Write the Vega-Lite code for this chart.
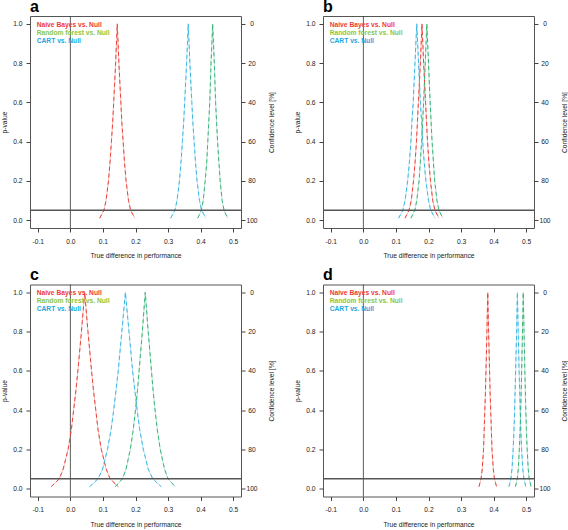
{
  "$schema": "https://vega.github.io/schema/vega-lite/v6.json",
  "padding": {"left": 1, "top": -2, "right": 0, "bottom": 0},
  "background": "white",
  "datasets": {
    "curves": [
      {"panel":"a","model":"NB","x":0.090,"p":0.01},{"panel":"a","model":"NB","x":0.103,"p":0.05},{"panel":"a","model":"NB","x":0.1095,"p":0.1},{"panel":"a","model":"NB","x":0.117,"p":0.2},{"panel":"a","model":"NB","x":0.122,"p":0.3},{"panel":"a","model":"NB","x":0.126,"p":0.4},{"panel":"a","model":"NB","x":0.130,"p":0.5},{"panel":"a","model":"NB","x":0.133,"p":0.6},{"panel":"a","model":"NB","x":0.139,"p":0.8},{"panel":"a","model":"NB","x":0.144,"p":1.0},
      {"panel":"a","model":"NB","x":0.149,"p":0.8},{"panel":"a","model":"NB","x":0.155,"p":0.6},{"panel":"a","model":"NB","x":0.158,"p":0.5},{"panel":"a","model":"NB","x":0.162,"p":0.4},{"panel":"a","model":"NB","x":0.166,"p":0.3},{"panel":"a","model":"NB","x":0.171,"p":0.2},{"panel":"a","model":"NB","x":0.1785,"p":0.1},{"panel":"a","model":"NB","x":0.185,"p":0.05},{"panel":"a","model":"NB","x":0.198,"p":0.01},
      {"panel":"a","model":"CART","x":0.308,"p":0.01},{"panel":"a","model":"CART","x":0.321,"p":0.05},{"panel":"a","model":"CART","x":0.3275,"p":0.1},{"panel":"a","model":"CART","x":0.335,"p":0.2},{"panel":"a","model":"CART","x":0.340,"p":0.3},{"panel":"a","model":"CART","x":0.344,"p":0.4},{"panel":"a","model":"CART","x":0.348,"p":0.5},{"panel":"a","model":"CART","x":0.351,"p":0.6},{"panel":"a","model":"CART","x":0.357,"p":0.8},{"panel":"a","model":"CART","x":0.362,"p":1.0},
      {"panel":"a","model":"CART","x":0.367,"p":0.8},{"panel":"a","model":"CART","x":0.373,"p":0.6},{"panel":"a","model":"CART","x":0.376,"p":0.5},{"panel":"a","model":"CART","x":0.380,"p":0.4},{"panel":"a","model":"CART","x":0.384,"p":0.3},{"panel":"a","model":"CART","x":0.389,"p":0.2},{"panel":"a","model":"CART","x":0.3965,"p":0.1},{"panel":"a","model":"CART","x":0.403,"p":0.05},{"panel":"a","model":"CART","x":0.416,"p":0.01},
      {"panel":"a","model":"RF","x":0.391,"p":0.01},{"panel":"a","model":"RF","x":0.402,"p":0.05},{"panel":"a","model":"RF","x":0.408,"p":0.1},{"panel":"a","model":"RF","x":0.414,"p":0.2},{"panel":"a","model":"RF","x":0.419,"p":0.3},{"panel":"a","model":"RF","x":0.422,"p":0.4},{"panel":"a","model":"RF","x":0.425,"p":0.5},{"panel":"a","model":"RF","x":0.428,"p":0.6},{"panel":"a","model":"RF","x":0.432,"p":0.8},{"panel":"a","model":"RF","x":0.437,"p":1.0},
      {"panel":"a","model":"RF","x":0.442,"p":0.8},{"panel":"a","model":"RF","x":0.446,"p":0.6},{"panel":"a","model":"RF","x":0.449,"p":0.5},{"panel":"a","model":"RF","x":0.452,"p":0.4},{"panel":"a","model":"RF","x":0.456,"p":0.3},{"panel":"a","model":"RF","x":0.460,"p":0.2},{"panel":"a","model":"RF","x":0.466,"p":0.1},{"panel":"a","model":"RF","x":0.472,"p":0.05},{"panel":"a","model":"RF","x":0.483,"p":0.01},

      {"panel":"b","model":"NB","x":0.128,"p":0.01},{"panel":"b","model":"NB","x":0.140,"p":0.05},{"panel":"b","model":"NB","x":0.147,"p":0.1},{"panel":"b","model":"NB","x":0.154,"p":0.2},{"panel":"b","model":"NB","x":0.159,"p":0.3},{"panel":"b","model":"NB","x":0.163,"p":0.4},{"panel":"b","model":"NB","x":0.166,"p":0.5},{"panel":"b","model":"NB","x":0.169,"p":0.6},{"panel":"b","model":"NB","x":0.175,"p":0.8},{"panel":"b","model":"NB","x":0.180,"p":1.0},
      {"panel":"b","model":"NB","x":0.185,"p":0.8},{"panel":"b","model":"NB","x":0.191,"p":0.6},{"panel":"b","model":"NB","x":0.194,"p":0.5},{"panel":"b","model":"NB","x":0.197,"p":0.4},{"panel":"b","model":"NB","x":0.201,"p":0.3},{"panel":"b","model":"NB","x":0.206,"p":0.2},{"panel":"b","model":"NB","x":0.213,"p":0.1},{"panel":"b","model":"NB","x":0.220,"p":0.05},{"panel":"b","model":"NB","x":0.232,"p":0.01},
      {"panel":"b","model":"CART","x":0.108,"p":0.01},{"panel":"b","model":"CART","x":0.121,"p":0.05},{"panel":"b","model":"CART","x":0.128,"p":0.1},{"panel":"b","model":"CART","x":0.136,"p":0.2},{"panel":"b","model":"CART","x":0.1415,"p":0.3},{"panel":"b","model":"CART","x":0.146,"p":0.4},{"panel":"b","model":"CART","x":0.149,"p":0.5},{"panel":"b","model":"CART","x":0.153,"p":0.6},{"panel":"b","model":"CART","x":0.1585,"p":0.8},{"panel":"b","model":"CART","x":0.164,"p":1.0},
      {"panel":"b","model":"CART","x":0.1695,"p":0.8},{"panel":"b","model":"CART","x":0.175,"p":0.6},{"panel":"b","model":"CART","x":0.179,"p":0.5},{"panel":"b","model":"CART","x":0.182,"p":0.4},{"panel":"b","model":"CART","x":0.1865,"p":0.3},{"panel":"b","model":"CART","x":0.192,"p":0.2},{"panel":"b","model":"CART","x":0.200,"p":0.1},{"panel":"b","model":"CART","x":0.207,"p":0.05},{"panel":"b","model":"CART","x":0.220,"p":0.01},
      {"panel":"b","model":"RF","x":0.146,"p":0.01},{"panel":"b","model":"RF","x":0.158,"p":0.05},{"panel":"b","model":"RF","x":0.164,"p":0.1},{"panel":"b","model":"RF","x":0.171,"p":0.2},{"panel":"b","model":"RF","x":0.175,"p":0.3},{"panel":"b","model":"RF","x":0.179,"p":0.4},{"panel":"b","model":"RF","x":0.182,"p":0.5},{"panel":"b","model":"RF","x":0.185,"p":0.6},{"panel":"b","model":"RF","x":0.190,"p":0.8},{"panel":"b","model":"RF","x":0.195,"p":1.0},
      {"panel":"b","model":"RF","x":0.200,"p":0.8},{"panel":"b","model":"RF","x":0.205,"p":0.6},{"panel":"b","model":"RF","x":0.208,"p":0.5},{"panel":"b","model":"RF","x":0.211,"p":0.4},{"panel":"b","model":"RF","x":0.215,"p":0.3},{"panel":"b","model":"RF","x":0.219,"p":0.2},{"panel":"b","model":"RF","x":0.226,"p":0.1},{"panel":"b","model":"RF","x":0.232,"p":0.05},{"panel":"b","model":"RF","x":0.244,"p":0.01},

      {"panel":"c","model":"NB","x":-0.059,"p":0.01},{"panel":"c","model":"NB","x":-0.034,"p":0.05},{"panel":"c","model":"NB","x":-0.022,"p":0.1},{"panel":"c","model":"NB","x":-0.007,"p":0.2},{"panel":"c","model":"NB","x":0.003,"p":0.3},{"panel":"c","model":"NB","x":0.010,"p":0.4},{"panel":"c","model":"NB","x":0.017,"p":0.5},{"panel":"c","model":"NB","x":0.023,"p":0.6},{"panel":"c","model":"NB","x":0.034,"p":0.8},{"panel":"c","model":"NB","x":0.044,"p":1.0},
      {"panel":"c","model":"NB","x":0.054,"p":0.8},{"panel":"c","model":"NB","x":0.065,"p":0.6},{"panel":"c","model":"NB","x":0.071,"p":0.5},{"panel":"c","model":"NB","x":0.078,"p":0.4},{"panel":"c","model":"NB","x":0.085,"p":0.3},{"panel":"c","model":"NB","x":0.095,"p":0.2},{"panel":"c","model":"NB","x":0.110,"p":0.1},{"panel":"c","model":"NB","x":0.122,"p":0.05},{"panel":"c","model":"NB","x":0.147,"p":0.01},
      {"panel":"c","model":"CART","x":0.059,"p":0.01},{"panel":"c","model":"CART","x":0.085,"p":0.05},{"panel":"c","model":"CART","x":0.099,"p":0.1},{"panel":"c","model":"CART","x":0.114,"p":0.2},{"panel":"c","model":"CART","x":0.125,"p":0.3},{"panel":"c","model":"CART","x":0.133,"p":0.4},{"panel":"c","model":"CART","x":0.140,"p":0.5},{"panel":"c","model":"CART","x":0.147,"p":0.6},{"panel":"c","model":"CART","x":0.158,"p":0.8},{"panel":"c","model":"CART","x":0.169,"p":1.0},
      {"panel":"c","model":"CART","x":0.180,"p":0.8},{"panel":"c","model":"CART","x":0.191,"p":0.6},{"panel":"c","model":"CART","x":0.198,"p":0.5},{"panel":"c","model":"CART","x":0.205,"p":0.4},{"panel":"c","model":"CART","x":0.213,"p":0.3},{"panel":"c","model":"CART","x":0.224,"p":0.2},{"panel":"c","model":"CART","x":0.239,"p":0.1},{"panel":"c","model":"CART","x":0.253,"p":0.05},{"panel":"c","model":"CART","x":0.279,"p":0.01},
      {"panel":"c","model":"RF","x":0.138,"p":0.01},{"panel":"c","model":"RF","x":0.160,"p":0.05},{"panel":"c","model":"RF","x":0.171,"p":0.1},{"panel":"c","model":"RF","x":0.184,"p":0.2},{"panel":"c","model":"RF","x":0.193,"p":0.3},{"panel":"c","model":"RF","x":0.200,"p":0.4},{"panel":"c","model":"RF","x":0.206,"p":0.5},{"panel":"c","model":"RF","x":0.211,"p":0.6},{"panel":"c","model":"RF","x":0.221,"p":0.8},{"panel":"c","model":"RF","x":0.230,"p":1.0},
      {"panel":"c","model":"RF","x":0.239,"p":0.8},{"panel":"c","model":"RF","x":0.249,"p":0.6},{"panel":"c","model":"RF","x":0.254,"p":0.5},{"panel":"c","model":"RF","x":0.260,"p":0.4},{"panel":"c","model":"RF","x":0.267,"p":0.3},{"panel":"c","model":"RF","x":0.276,"p":0.2},{"panel":"c","model":"RF","x":0.289,"p":0.1},{"panel":"c","model":"RF","x":0.300,"p":0.05},{"panel":"c","model":"RF","x":0.322,"p":0.01},

      {"panel":"d","model":"NB","x":0.355,"p":0.01},{"panel":"d","model":"NB","x":0.3615,"p":0.05},{"panel":"d","model":"NB","x":0.365,"p":0.1},{"panel":"d","model":"NB","x":0.369,"p":0.2},{"panel":"d","model":"NB","x":0.371,"p":0.3},{"panel":"d","model":"NB","x":0.373,"p":0.4},{"panel":"d","model":"NB","x":0.375,"p":0.5},{"panel":"d","model":"NB","x":0.3765,"p":0.6},{"panel":"d","model":"NB","x":0.3794,"p":0.8},{"panel":"d","model":"NB","x":0.382,"p":1.0},
      {"panel":"d","model":"NB","x":0.3846,"p":0.8},{"panel":"d","model":"NB","x":0.3875,"p":0.6},{"panel":"d","model":"NB","x":0.389,"p":0.5},{"panel":"d","model":"NB","x":0.391,"p":0.4},{"panel":"d","model":"NB","x":0.393,"p":0.3},{"panel":"d","model":"NB","x":0.395,"p":0.2},{"panel":"d","model":"NB","x":0.399,"p":0.1},{"panel":"d","model":"NB","x":0.4025,"p":0.05},{"panel":"d","model":"NB","x":0.409,"p":0.01},
      {"panel":"d","model":"CART","x":0.447,"p":0.01},{"panel":"d","model":"CART","x":0.453,"p":0.05},{"panel":"d","model":"CART","x":0.4564,"p":0.1},{"panel":"d","model":"CART","x":0.460,"p":0.2},{"panel":"d","model":"CART","x":0.4625,"p":0.3},{"panel":"d","model":"CART","x":0.4645,"p":0.4},{"panel":"d","model":"CART","x":0.466,"p":0.5},{"panel":"d","model":"CART","x":0.4677,"p":0.6},{"panel":"d","model":"CART","x":0.4705,"p":0.8},{"panel":"d","model":"CART","x":0.473,"p":1.0},
      {"panel":"d","model":"CART","x":0.4755,"p":0.8},{"panel":"d","model":"CART","x":0.4783,"p":0.6},{"panel":"d","model":"CART","x":0.480,"p":0.5},{"panel":"d","model":"CART","x":0.4815,"p":0.4},{"panel":"d","model":"CART","x":0.4835,"p":0.3},{"panel":"d","model":"CART","x":0.486,"p":0.2},{"panel":"d","model":"CART","x":0.4896,"p":0.1},{"panel":"d","model":"CART","x":0.493,"p":0.05},{"panel":"d","model":"CART","x":0.499,"p":0.01},
      {"panel":"d","model":"RF","x":0.467,"p":0.01},{"panel":"d","model":"RF","x":0.4727,"p":0.05},{"panel":"d","model":"RF","x":0.4757,"p":0.1},{"panel":"d","model":"RF","x":0.479,"p":0.2},{"panel":"d","model":"RF","x":0.4814,"p":0.3},{"panel":"d","model":"RF","x":0.4832,"p":0.4},{"panel":"d","model":"RF","x":0.4847,"p":0.5},{"panel":"d","model":"RF","x":0.4861,"p":0.6},{"panel":"d","model":"RF","x":0.4886,"p":0.8},{"panel":"d","model":"RF","x":0.491,"p":1.0},
      {"panel":"d","model":"RF","x":0.4934,"p":0.8},{"panel":"d","model":"RF","x":0.4959,"p":0.6},{"panel":"d","model":"RF","x":0.4973,"p":0.5},{"panel":"d","model":"RF","x":0.4988,"p":0.4},{"panel":"d","model":"RF","x":0.5006,"p":0.3},{"panel":"d","model":"RF","x":0.503,"p":0.2},{"panel":"d","model":"RF","x":0.5063,"p":0.1},{"panel":"d","model":"RF","x":0.5093,"p":0.05},{"panel":"d","model":"RF","x":0.515,"p":0.01}
    ]
  },
  "config": {
    "view": {"stroke": "#555555", "strokeWidth": 1},
    "axis": {"domain": false, "grid": false, "ticks": true, "tickSize": 4, "tickColor": "#444444", "tickWidth": 1,
             "labelFont": "Liberation Sans", "labelFontSize": 6.7, "labelColor": "#222222", "labelOverlap": false, "labelFlush": false,
             "titleFont": "Liberation Sans", "titleFontSize": 6.7, "titleFontWeight": "normal", "titleColor": "#222222"},
    "axisLeft": {"labelPadding": 4, "titlePadding": 5},
    "axisBottom": {"labelPadding": 6, "titlePadding": 8},
    "title": {"font": "Liberation Sans", "fontSize": 16, "fontWeight": "bold", "anchor": "start", "frame": "group", "baseline": "alphabetic", "offset": 1, "color": "#000000"},
    "legend": {"orient": "none", "legendX": 0, "legendY": 5.6, "padding": 0, "rowPadding": -0.5, "labelFont": "Liberation Sans", "labelFontSize": 6.7, "labelFontWeight": "bold", "symbolSize": 1, "symbolStrokeWidth": 0, "symbolOpacity": 0, "labelOffset": 0}
  },
  "columns": 2,
  "spacing": {"row": 6.5, "column": 18},
  "resolve": {"scale": {"color": "independent"}, "legend": {"color": "independent"}},
  "concat": [
    {
      "title": {"text": "a"},
      "width": 211, "height": 212,
      "layer": [
        {
          "data": {"name": "curves"},
          "transform": [{"filter": "datum.panel == 'a'"}],
          "layer": [
            {"data": {"values": [{}]}, "mark": {"type": "rule", "color": "#333333", "strokeWidth": 0.8},
             "encoding": {"x": {"datum": 0, "type": "quantitative", "title": "True difference in performance", "scale": {"domain": [-0.124, 0.524], "nice": false, "zero": false}, "axis": {"values": [-0.1,0,0.1,0.2,0.3,0.4,0.5], "labelOverlap": false, "labelExpr": "replace(format(datum.value, '.1f'), '\u2212', '-')", "title": "True difference in performance"}}}},
            {"mark": {"type": "line", "strokeWidth": 1, "opacity": 0.35},
             "encoding": {
               "x": {"field": "x", "type": "quantitative", "scale": {"domain": [-0.124, 0.524], "nice": false, "zero": false}, "axis": {"values": [-0.1,0,0.1,0.2,0.3,0.4,0.5], "labelOverlap": false, "labelExpr": "replace(format(datum.value, '.1f'), '\u2212', '-')", "title": "True difference in performance"}},
               "y": {"field": "p", "type": "quantitative", "scale": {"domain": [-0.04, 1.04], "nice": false, "zero": false}, "axis": {"values": [0,0.2,0.4,0.6,0.8,1], "format": ".1f", "title": "p-value", "orient": "left"}},
               "color": {"field": "model", "type": "nominal", "scale": {"domain": ["NB","RF","CART"], "range": ["#E8453C","#3AB57A","#3DB7E4"]},
                 "legend": {"title": null, "labelExpr": "datum.label == 'NB' ? 'Naive Bayes vs. Null' : datum.label == 'RF' ? 'Random forest vs. Null' : 'CART vs. Null'",
                   "encode": {"labels": {"update": {"fill": {"signal": "datum.value == 'NB' ? '#EE3B33' : datum.value == 'RF' ? '#8CC63E' : '#22A7E0'"}}}}}}
             }},
            {"mark": {"type": "line", "strokeWidth": 1, "strokeDash": [4,3]},
             "encoding": {
               "x": {"field": "x", "type": "quantitative", "scale": {"domain": [-0.124, 0.524], "nice": false, "zero": false}, "axis": {"values": [-0.1,0,0.1,0.2,0.3,0.4,0.5], "labelOverlap": false, "labelExpr": "replace(format(datum.value, '.1f'), '\u2212', '-')", "title": "True difference in performance"}},
               "y": {"field": "p", "type": "quantitative", "scale": {"domain": [-0.04, 1.04], "nice": false, "zero": false}, "axis": {"values": [0,0.2,0.4,0.6,0.8,1], "format": ".1f", "title": "p-value", "orient": "left"}},
               "color": {"field": "model", "type": "nominal", "scale": {"domain": ["NB","RF","CART"], "range": ["#E8453C","#3AB57A","#3DB7E4"]},
                 "legend": {"title": null, "labelExpr": "datum.label == 'NB' ? 'Naive Bayes vs. Null' : datum.label == 'RF' ? 'Random forest vs. Null' : 'CART vs. Null'",
                   "encode": {"labels": {"update": {"fill": {"signal": "datum.value == 'NB' ? '#EE3B33' : datum.value == 'RF' ? '#8CC63E' : '#22A7E0'"}}}}}}
             }}
          ]
        },
        {"data": {"values": [{}]}, "mark": {"type": "rule", "color": "#555555", "strokeWidth": 1.5},
         "encoding": {"y": {"datum": 95, "type": "quantitative", "scale": {"domain": [-4, 104], "reverse": true, "nice": false, "zero": false},
           "axis": {"orient": "right", "values": [0,20,40,60,80,100], "title": "Confidence level [%]", "titleAngle": 270, "labelAlign": "center", "labelPadding": 6.5, "titlePadding": 17}}}}
      ],
      "resolve": {"scale": {"y": "independent"}}
    },
    {
      "title": {"text": "b"},
      "width": 211, "height": 212,
      "layer": [
        {
          "data": {"name": "curves"},
          "transform": [{"filter": "datum.panel == 'b'"}],
          "layer": [
            {"data": {"values": [{}]}, "mark": {"type": "rule", "color": "#333333", "strokeWidth": 0.8},
             "encoding": {"x": {"datum": 0, "type": "quantitative", "title": "True difference in performance", "scale": {"domain": [-0.124, 0.524], "nice": false, "zero": false}, "axis": {"values": [-0.1,0,0.1,0.2,0.3,0.4,0.5], "labelOverlap": false, "labelExpr": "replace(format(datum.value, '.1f'), '\u2212', '-')", "title": "True difference in performance"}}}},
            {"mark": {"type": "line", "strokeWidth": 1, "opacity": 0.35},
             "encoding": {
               "x": {"field": "x", "type": "quantitative", "scale": {"domain": [-0.124, 0.524], "nice": false, "zero": false}, "axis": {"values": [-0.1,0,0.1,0.2,0.3,0.4,0.5], "labelOverlap": false, "labelExpr": "replace(format(datum.value, '.1f'), '\u2212', '-')", "title": "True difference in performance"}},
               "y": {"field": "p", "type": "quantitative", "scale": {"domain": [-0.04, 1.04], "nice": false, "zero": false}, "axis": {"values": [0,0.2,0.4,0.6,0.8,1], "format": ".1f", "title": "p-value", "orient": "left"}},
               "color": {"field": "model", "type": "nominal", "scale": {"domain": ["NB","RF","CART"], "range": ["#E8453C","#3AB57A","#3DB7E4"]},
                 "legend": {"title": null, "labelExpr": "datum.label == 'NB' ? 'Naive Bayes vs. Null' : datum.label == 'RF' ? 'Random forest vs. Null' : 'CART vs. Null'",
                   "encode": {"labels": {"update": {"fill": {"signal": "datum.value == 'NB' ? '#EE3B33' : datum.value == 'RF' ? '#8CC63E' : '#22A7E0'"}}}}}}
             }},
            {"mark": {"type": "line", "strokeWidth": 1, "strokeDash": [4,3]},
             "encoding": {
               "x": {"field": "x", "type": "quantitative", "scale": {"domain": [-0.124, 0.524], "nice": false, "zero": false}, "axis": {"values": [-0.1,0,0.1,0.2,0.3,0.4,0.5], "labelOverlap": false, "labelExpr": "replace(format(datum.value, '.1f'), '\u2212', '-')", "title": "True difference in performance"}},
               "y": {"field": "p", "type": "quantitative", "scale": {"domain": [-0.04, 1.04], "nice": false, "zero": false}, "axis": {"values": [0,0.2,0.4,0.6,0.8,1], "format": ".1f", "title": "p-value", "orient": "left"}},
               "color": {"field": "model", "type": "nominal", "scale": {"domain": ["NB","RF","CART"], "range": ["#E8453C","#3AB57A","#3DB7E4"]},
                 "legend": {"title": null, "labelExpr": "datum.label == 'NB' ? 'Naive Bayes vs. Null' : datum.label == 'RF' ? 'Random forest vs. Null' : 'CART vs. Null'",
                   "encode": {"labels": {"update": {"fill": {"signal": "datum.value == 'NB' ? '#EE3B33' : datum.value == 'RF' ? '#8CC63E' : '#22A7E0'"}}}}}}
             }}
          ]
        },
        {"data": {"values": [{}]}, "mark": {"type": "rule", "color": "#555555", "strokeWidth": 1.5},
         "encoding": {"y": {"datum": 95, "type": "quantitative", "scale": {"domain": [-4, 104], "reverse": true, "nice": false, "zero": false},
           "axis": {"orient": "right", "values": [0,20,40,60,80,100], "title": "Confidence level [%]", "titleAngle": 270, "labelAlign": "center", "labelPadding": 6.5, "titlePadding": 17}}}}
      ],
      "resolve": {"scale": {"y": "independent"}}
    },
    {
      "title": {"text": "c"},
      "width": 211, "height": 212,
      "layer": [
        {
          "data": {"name": "curves"},
          "transform": [{"filter": "datum.panel == 'c'"}],
          "layer": [
            {"data": {"values": [{}]}, "mark": {"type": "rule", "color": "#333333", "strokeWidth": 0.8},
             "encoding": {"x": {"datum": 0, "type": "quantitative", "title": "True difference in performance", "scale": {"domain": [-0.124, 0.524], "nice": false, "zero": false}, "axis": {"values": [-0.1,0,0.1,0.2,0.3,0.4,0.5], "labelOverlap": false, "labelExpr": "replace(format(datum.value, '.1f'), '\u2212', '-')", "title": "True difference in performance"}}}},
            {"mark": {"type": "line", "strokeWidth": 1, "opacity": 0.35},
             "encoding": {
               "x": {"field": "x", "type": "quantitative", "scale": {"domain": [-0.124, 0.524], "nice": false, "zero": false}, "axis": {"values": [-0.1,0,0.1,0.2,0.3,0.4,0.5], "labelOverlap": false, "labelExpr": "replace(format(datum.value, '.1f'), '\u2212', '-')", "title": "True difference in performance"}},
               "y": {"field": "p", "type": "quantitative", "scale": {"domain": [-0.04, 1.04], "nice": false, "zero": false}, "axis": {"values": [0,0.2,0.4,0.6,0.8,1], "format": ".1f", "title": "p-value", "orient": "left"}},
               "color": {"field": "model", "type": "nominal", "scale": {"domain": ["NB","RF","CART"], "range": ["#E8453C","#3AB57A","#3DB7E4"]},
                 "legend": {"title": null, "labelExpr": "datum.label == 'NB' ? 'Naive Bayes vs. Null' : datum.label == 'RF' ? 'Random forest vs. Null' : 'CART vs. Null'",
                   "encode": {"labels": {"update": {"fill": {"signal": "datum.value == 'NB' ? '#EE3B33' : datum.value == 'RF' ? '#8CC63E' : '#22A7E0'"}}}}}}
             }},
            {"mark": {"type": "line", "strokeWidth": 1, "strokeDash": [4,3]},
             "encoding": {
               "x": {"field": "x", "type": "quantitative", "scale": {"domain": [-0.124, 0.524], "nice": false, "zero": false}, "axis": {"values": [-0.1,0,0.1,0.2,0.3,0.4,0.5], "labelOverlap": false, "labelExpr": "replace(format(datum.value, '.1f'), '\u2212', '-')", "title": "True difference in performance"}},
               "y": {"field": "p", "type": "quantitative", "scale": {"domain": [-0.04, 1.04], "nice": false, "zero": false}, "axis": {"values": [0,0.2,0.4,0.6,0.8,1], "format": ".1f", "title": "p-value", "orient": "left"}},
               "color": {"field": "model", "type": "nominal", "scale": {"domain": ["NB","RF","CART"], "range": ["#E8453C","#3AB57A","#3DB7E4"]},
                 "legend": {"title": null, "labelExpr": "datum.label == 'NB' ? 'Naive Bayes vs. Null' : datum.label == 'RF' ? 'Random forest vs. Null' : 'CART vs. Null'",
                   "encode": {"labels": {"update": {"fill": {"signal": "datum.value == 'NB' ? '#EE3B33' : datum.value == 'RF' ? '#8CC63E' : '#22A7E0'"}}}}}}
             }}
          ]
        },
        {"data": {"values": [{}]}, "mark": {"type": "rule", "color": "#555555", "strokeWidth": 1.5},
         "encoding": {"y": {"datum": 95, "type": "quantitative", "scale": {"domain": [-4, 104], "reverse": true, "nice": false, "zero": false},
           "axis": {"orient": "right", "values": [0,20,40,60,80,100], "title": "Confidence level [%]", "titleAngle": 270, "labelAlign": "center", "labelPadding": 6.5, "titlePadding": 17}}}}
      ],
      "resolve": {"scale": {"y": "independent"}}
    },
    {
      "title": {"text": "d"},
      "width": 211, "height": 212,
      "layer": [
        {
          "data": {"name": "curves"},
          "transform": [{"filter": "datum.panel == 'd'"}],
          "layer": [
            {"data": {"values": [{}]}, "mark": {"type": "rule", "color": "#333333", "strokeWidth": 0.8},
             "encoding": {"x": {"datum": 0, "type": "quantitative", "title": "True difference in performance", "scale": {"domain": [-0.124, 0.524], "nice": false, "zero": false}, "axis": {"values": [-0.1,0,0.1,0.2,0.3,0.4,0.5], "labelOverlap": false, "labelExpr": "replace(format(datum.value, '.1f'), '\u2212', '-')", "title": "True difference in performance"}}}},
            {"mark": {"type": "line", "strokeWidth": 1, "opacity": 0.35},
             "encoding": {
               "x": {"field": "x", "type": "quantitative", "scale": {"domain": [-0.124, 0.524], "nice": false, "zero": false}, "axis": {"values": [-0.1,0,0.1,0.2,0.3,0.4,0.5], "labelOverlap": false, "labelExpr": "replace(format(datum.value, '.1f'), '\u2212', '-')", "title": "True difference in performance"}},
               "y": {"field": "p", "type": "quantitative", "scale": {"domain": [-0.04, 1.04], "nice": false, "zero": false}, "axis": {"values": [0,0.2,0.4,0.6,0.8,1], "format": ".1f", "title": "p-value", "orient": "left"}},
               "color": {"field": "model", "type": "nominal", "scale": {"domain": ["NB","RF","CART"], "range": ["#E8453C","#3AB57A","#3DB7E4"]},
                 "legend": {"title": null, "labelExpr": "datum.label == 'NB' ? 'Naive Bayes vs. Null' : datum.label == 'RF' ? 'Random forest vs. Null' : 'CART vs. Null'",
                   "encode": {"labels": {"update": {"fill": {"signal": "datum.value == 'NB' ? '#EE3B33' : datum.value == 'RF' ? '#8CC63E' : '#22A7E0'"}}}}}}
             }},
            {"mark": {"type": "line", "strokeWidth": 1, "strokeDash": [4,3]},
             "encoding": {
               "x": {"field": "x", "type": "quantitative", "scale": {"domain": [-0.124, 0.524], "nice": false, "zero": false}, "axis": {"values": [-0.1,0,0.1,0.2,0.3,0.4,0.5], "labelOverlap": false, "labelExpr": "replace(format(datum.value, '.1f'), '\u2212', '-')", "title": "True difference in performance"}},
               "y": {"field": "p", "type": "quantitative", "scale": {"domain": [-0.04, 1.04], "nice": false, "zero": false}, "axis": {"values": [0,0.2,0.4,0.6,0.8,1], "format": ".1f", "title": "p-value", "orient": "left"}},
               "color": {"field": "model", "type": "nominal", "scale": {"domain": ["NB","RF","CART"], "range": ["#E8453C","#3AB57A","#3DB7E4"]},
                 "legend": {"title": null, "labelExpr": "datum.label == 'NB' ? 'Naive Bayes vs. Null' : datum.label == 'RF' ? 'Random forest vs. Null' : 'CART vs. Null'",
                   "encode": {"labels": {"update": {"fill": {"signal": "datum.value == 'NB' ? '#EE3B33' : datum.value == 'RF' ? '#8CC63E' : '#22A7E0'"}}}}}}
             }}
          ]
        },
        {"data": {"values": [{}]}, "mark": {"type": "rule", "color": "#555555", "strokeWidth": 1.5},
         "encoding": {"y": {"datum": 95, "type": "quantitative", "scale": {"domain": [-4, 104], "reverse": true, "nice": false, "zero": false},
           "axis": {"orient": "right", "values": [0,20,40,60,80,100], "title": "Confidence level [%]", "titleAngle": 270, "labelAlign": "center", "labelPadding": 6.5, "titlePadding": 17}}}}
      ],
      "resolve": {"scale": {"y": "independent"}}
    }
  ]
}
